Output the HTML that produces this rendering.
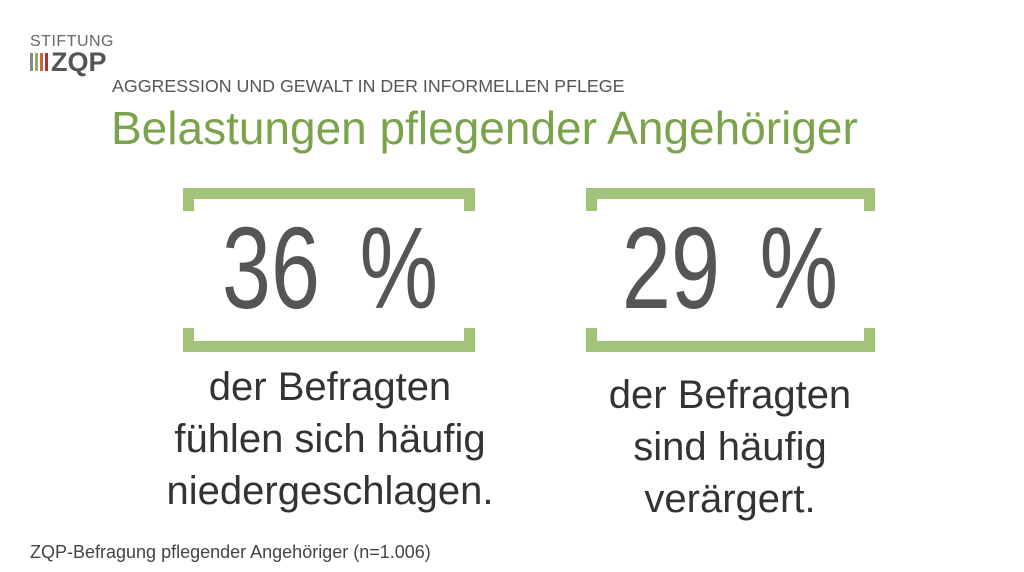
<!DOCTYPE html>
<html><head><meta charset="utf-8"><style>
body{margin:0;width:1024px;height:572px;background:#fff;position:relative;overflow:hidden;font-family:"Liberation Sans",sans-serif;color:#3c3c3c}
.a{position:absolute;white-space:nowrap}
.br{position:absolute;border:11px solid #a3c27a}
.num{position:absolute;font-size:116px;line-height:120px;color:#555;text-align:center;transform:scaleX(0.76);transform-origin:center;word-spacing:20px}
.txt{position:absolute;font-size:40px;line-height:52px;text-align:center;color:#333}
</style></head><body>
<div class="a" style="left:30px;top:33px;font-size:16px;letter-spacing:0.5px;color:#666">STIFTUNG</div>
<div class="a" style="left:30px;top:53px;width:3px;height:18px;background:#888"></div>
<div class="a" style="left:35px;top:53px;width:3px;height:18px;background:#9a6"></div>
<div class="a" style="left:40px;top:53px;width:3px;height:18px;background:#c63"></div>
<div class="a" style="left:45px;top:53px;width:3px;height:18px;background:#a33"></div>
<div class="a" style="left:51px;top:47px;font-size:27px;font-weight:bold;color:#555">ZQP</div>
<div class="a" style="left:112px;top:76px;font-size:17.8px;color:#555">AGGRESSION UND GEWALT IN DER INFORMELLEN PFLEGE</div>
<div class="a" style="left:111px;top:101px;font-size:46px;color:#7ba34b">Belastungen pflegender Angehöriger</div>

<div class="br" style="left:183px;top:188px;width:270px;height:12px;border-bottom:none"></div>
<div class="br" style="left:183px;top:328px;width:270px;height:13px;border-top:none"></div>
<div class="num" style="left:150px;width:360px;top:208px">36 %</div>
<div class="txt" style="left:130px;width:400px;top:361px">der Befragten<br>fühlen sich häufig<br>niedergeschlagen.</div>

<div class="br" style="left:586px;top:188px;width:267px;height:12px;border-bottom:none"></div>
<div class="br" style="left:586px;top:328px;width:267px;height:13px;border-top:none"></div>
<div class="num" style="left:550px;width:360px;top:208px">29 %</div>
<div class="txt" style="left:530px;width:400px;top:369px">der Befragten<br>sind häufig<br>verärgert.</div>

<div class="a" style="left:30px;top:542px;font-size:18px;color:#444">ZQP-Befragung pflegender Angehöriger (n=1.006)</div>
</body></html>
